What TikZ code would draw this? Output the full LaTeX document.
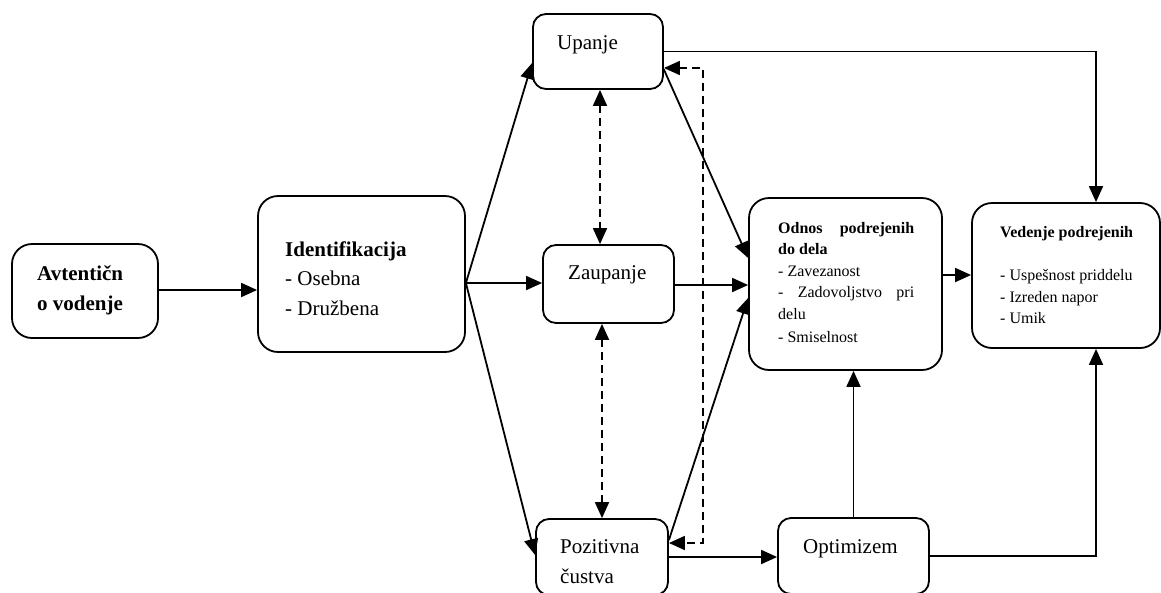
\documentclass[tikz,border=0pt]{standalone}
\usepackage{fontspec}
\setmainfont{Liberation Serif}
\usetikzlibrary{arrows.meta,calc}
\begin{document}
\begin{tikzpicture}[x=1pt,y=-1pt,
  box/.style={draw,line width=1.8pt,inner sep=0pt},
  bigbox/.style={box,rounded corners=20pt},
  smallbox/.style={box,rounded corners=13pt},
  conn/.style={line width=1.8pt,-{Triangle[length=16pt,width=14pt]}},
  conn2/.style={line width=1.8pt,{Triangle[length=16pt,width=14pt]}-{Triangle[length=16pt,width=14pt]}},
  dsh/.style={dash pattern=on 8pt off 5pt},
  big/.style={inner sep=0pt,anchor=base west,font=\fontsize{21}{25}\selectfont},
  small/.style={inner sep=0pt,anchor=base west,font=\fontsize{16}{19}\selectfont}]
\useasboundingbox (0,0) rectangle (1161,592);
\clip (0,0) rectangle (1161,592);
% boxes
\node[bigbox,minimum width=146pt,minimum height=94pt] (avt) at (85,291) {};
\node[bigbox,minimum width=207pt,minimum height=156pt] (idf) at (361.5,274) {};
\node[smallbox,minimum width=130pt,minimum height=75pt] (up) at (598,51.5) {};
\node[smallbox,minimum width=131pt,minimum height=78pt] (za) at (608.5,284) {};
\node[smallbox,minimum width=132pt,minimum height=76pt] (po) at (602,557) {};
\node[smallbox,minimum width=151pt,minimum height=76pt] (op) at (853.5,556) {};
\node[bigbox,minimum width=193pt,minimum height=172pt] (od) at (845.5,284) {};
\node[bigbox,minimum width=188pt,minimum height=145pt] (ve) at (1066,275.5) {};
% texts
\node[big] (t1) at (37,280) {\textbf{Avtentičn}};
\node[big] (t2) at (37,310) {\textbf{o vodenje}};
\node[big] (t3) at (285,256) {\textbf{Identifikacija}};
\node[big] (t4) at (285,285) {- Osebna};
\node[big] (t5) at (285,315) {- Družbena};
\node[big] (t6) at (557,49) {Upanje};
\node[big] (t7) at (568,279) {Zaupanje};
\node[big] (t8) at (560,553) {Pozitivna};
\node[big] (t9) at (560,583) {čustva};
\node[big] (t10) at (803,553) {Optimizem};
\node[small] (s1) at (778,233) {\hbox to 136pt{\textbf{Odnos}\hfill\textbf{podrejenih}}};
\node[small] (s2) at (778,254) {\textbf{do dela}};
\node[small] (s3) at (778,276) {- Zavezanost};
\node[small] (s4) at (778,297) {\hbox to 136pt{-\hfill Zadovoljstvo\hfill pri}};
\node[small] (s5) at (778,319) {delu};
\node[small] (s6) at (778,342) {- Smiselnost};
\node[small] (v1) at (1000,237) {\textbf{Vedenje podrejenih}};
\node[small] (v2) at (1000,280) {- Uspešnost priddelu};
\node[small] (v3) at (1000,302) {- Izreden napor};
\node[small] (v4) at (1000,323) {- Umik};
% helper coordinates
\coordinate (fan) at ([yshift=-9pt]idf.east);
\coordinate (vtop) at ([xshift=30pt]ve.north);
\coordinate (vbot) at ([xshift=30pt]ve.south);
\coordinate (dtop) at ([yshift=-16.5pt]up.east);
\coordinate (dbot) at ([yshift=14pt]po.east);
\coordinate (dx) at (703,0);
% connectors
\draw[conn] ([yshift=1pt]avt.east) -- ([yshift=1pt]avt.east -| idf.west);
\draw[conn] (fan) -- ([yshift=-11.5pt]up.west);
\draw[conn] (fan) -- (fan -| za.west);
\draw[conn] (fan) -- ([yshift=2pt]po.west);
\draw[conn] (up.east) -- (up.east -| vtop) -- (vtop);
\draw[conn2,dsh] (dtop) -- (dtop -| dx) -- (dbot -| dx) -- (dbot);
\draw[conn2,dsh] ([xshift=2pt]up.south) -- ([xshift=2pt]up.south |- za.north);
\draw[conn2,dsh] (po.north |- za.south) -- (po.north);
\draw[conn] ([yshift=-18pt]up.east) -- ([yshift=26pt]od.west);
\draw[conn] ([yshift=-1pt]za.east) -- ([yshift=-1pt]za.east -| od.west);
\draw[conn] ([yshift=17pt]po.east) -- ([yshift=-14pt]od.west);
\draw[conn] (po.east) -- (po.east -| op.west);
\draw[conn] (op.north) -- (op.north |- od.south);
\draw[conn] (op.east) -- (op.east -| vbot) -- (vbot);
\draw[conn] ([yshift=9pt]od.east) -- ([yshift=9pt]od.east -| ve.west);
\end{tikzpicture}
\end{document}
